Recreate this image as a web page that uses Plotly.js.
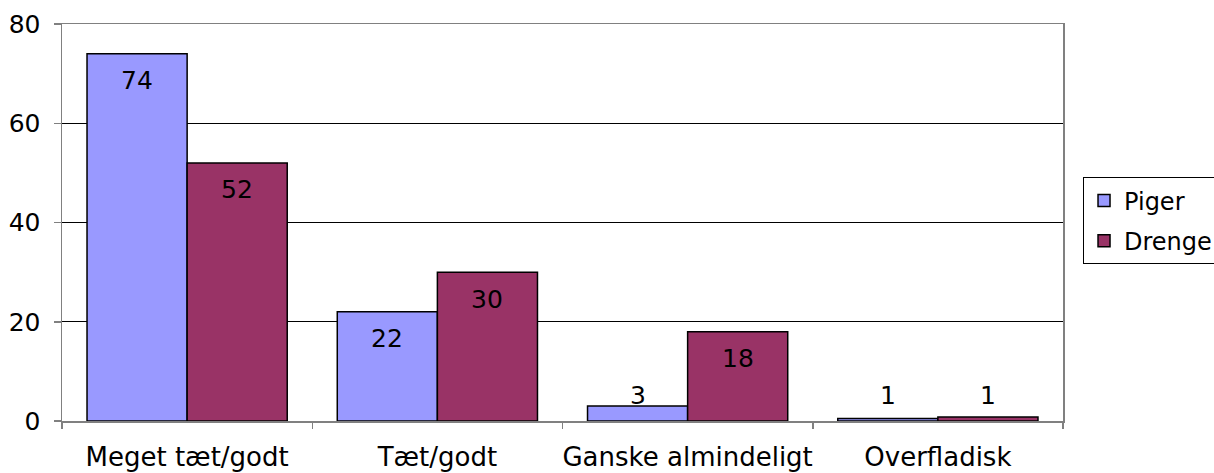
<!DOCTYPE html>
<html>
<head>
<meta charset="utf-8">
<script src="https://cdn.plot.ly/plotly-3.0.1.min.js"></script>
<style>html,body{margin:0;padding:0;background:#fff;}#chart{width:1214px;height:473px;}</style>
</head>
<body>
<div id="chart"></div>
<script>
const categories = ["Meget tæt/godt", "Tæt/godt", "Ganske almindeligt", "Overfladisk"];
const seriesNames = ["Piger", "Drenge"];
const piger = [74, 22, 3, 0.5];
const drenge = [52, 30, 18, 0.8];
const yTicks = [0, 20, 40, 60, 80];

const W = 1214, H = 473;
const margin = {l: 62, r: 151, t: 24, b: 52, pad: 0, autoexpand: false};
const plotH = H - margin.t - margin.b;
const yMax = 80;
const pxPerUnit = plotH / yMax;
const FONT = "Verdana, 'DejaVu Sans', sans-serif";

const seriesVals = [piger, drenge];
const colors = ["#9999FF", "#993366"];

const traces = seriesVals.map((vals, s) => ({
  type: "bar",
  name: seriesNames[s],
  legendgroup: "g" + s,
  x: categories,
  y: vals,
  marker: {color: colors[s], line: {color: "#000000", width: 1.5}},
  hoverinfo: "skip"
}));

const annotations = [];
seriesVals.forEach((vals, s) => {
  vals.forEach((v, i) => {
    const big = v * pxPerUnit > 53;
    annotations.push({
      x: categories[i],
      y: big ? v : 0,
      xref: "x", yref: "y",
      text: String(Math.round(v)),
      showarrow: false,
      xshift: s === 0 ? -50 : 50,
      yshift: big ? -27 : 26,
      yanchor: "middle",
      font: {family: FONT, size: 25, color: "#000000"}
    });
  });
});

const layout = {
  width: W, height: H,
  margin: margin,
  paper_bgcolor: "#ffffff",
  plot_bgcolor: "#ffffff",
  barmode: "group",
  bargap: 0.2,
  bargroupgap: 0,
  showlegend: true,
  legend: {
    x: 1.020, xanchor: "left",
    y: 0.504, yanchor: "middle",
    bordercolor: "#000000", borderwidth: 1,
    bgcolor: "#ffffff",
    font: {family: FONT, size: 24, color: "#000000"},
    tracegroupgap: 6,
    itemwidth: 30
  },
  xaxis: {
    type: "category",
    tickson: "boundaries",
    tickangle: 0,
    ticks: "outside", ticklen: 6, tickcolor: "#808080", tickwidth: 1.5,
    showline: true, linecolor: "#808080", linewidth: 1.5, mirror: true,
    showgrid: false,
    ticklabelstandoff: 12,
    tickfont: {family: FONT, size: 26, color: "#000000"},
    fixedrange: true
  },
  yaxis: {
    range: [0, yMax],
    tickvals: yTicks,
    ticktext: yTicks.map(String),
    ticks: "outside", ticklen: 7, tickcolor: "#808080", tickwidth: 1.5,
    showline: true, linecolor: "#808080", linewidth: 1.5, mirror: true,
    showgrid: true, gridcolor: "#000000", gridwidth: 1,
    zeroline: false,
    ticklabelstandoff: 8,
    tickfont: {family: FONT, size: 25, color: "#000000"},
    fixedrange: true
  },
  annotations: annotations
};

Plotly.newPlot("chart", traces, layout, {displayModeBar: false, staticPlot: true});
</script>
</body>
</html>
